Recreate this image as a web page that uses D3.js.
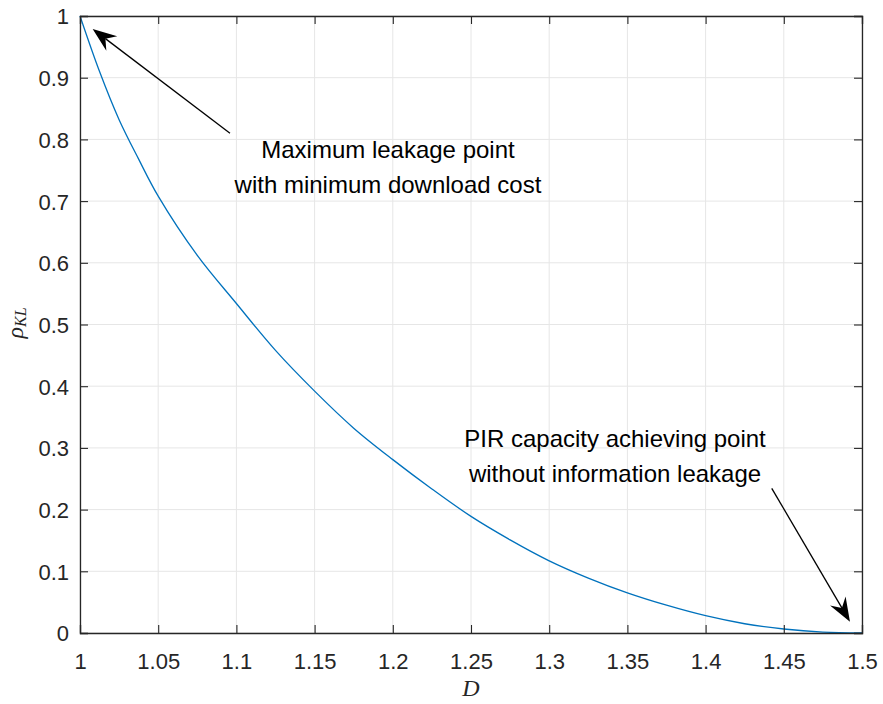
<!DOCTYPE html>
<html>
<head>
<meta charset="utf-8">
<script src="https://cdn.jsdelivr.net/npm/d3@7/dist/d3.min.js"></script>
<style>
  body { margin: 0; background: #fff; }
  svg { display: block; }
  .tick-label { font-family: "Liberation Sans", Arial, sans-serif; font-size: 22px; fill: #262626; }
  .note { font-family: "Liberation Sans", Arial, sans-serif; font-size: 24px; fill: #000; }
</style>
</head>
<body>
<div id="chart-container"><svg></svg></div>
<script>
const chartSize = {width: 883, height: 704};
const margin = {left: 80, right: 21, top: 16, bottom: 71};

const width = chartSize.width - margin.left - margin.right;
const height = chartSize.height - margin.top - margin.bottom;

const dValues = [1.000, 1.0125, 1.025, 1.0375, 1.05, 1.075, 1.1, 1.125, 1.15, 1.175,
  1.2, 1.225, 1.25, 1.275, 1.3, 1.325, 1.35, 1.375, 1.4, 1.425, 1.45, 1.475, 1.5];
const rhoValues = [1.000, 0.910, 0.832, 0.768, 0.708, 0.612, 0.534, 0.458, 0.392, 0.332,
  0.281, 0.2335, 0.189, 0.151, 0.117, 0.089, 0.065, 0.045, 0.028, 0.015, 0.0065, 0.0015, 0];

const xTicks = [1, 1.05, 1.1, 1.15, 1.2, 1.25, 1.3, 1.35, 1.4, 1.45, 1.5];
const yTicks = [0, 0.1, 0.2, 0.3, 0.4, 0.5, 0.6, 0.7, 0.8, 0.9, 1];

const noteLines = [
  ["Maximum leakage point", "with minimum download cost"],
  ["PIR capacity achieving point", "without information leakage"]
];
// arrows in data units: [tailD, tailRho, tipD, tipRho]
const noteArrows = [
  [1.0959, 0.810, 1.0081, 0.979],
  [1.4423, 0.2345, 1.4923, 0.0183]
];
const noteAnchors = [[1.1969, 0.770], [1.3421, 0.302]];

const AXIS = "#262626";
const GRID = "#e6e6e6";
const LINE = "#0072BD";

const drawChart = () => {
  const x = d3.scaleLinear().domain([1, 1.5]).range([0, width]);
  const y = d3.scaleLinear().domain([0, 1]).range([height, 0]);

  const svg = d3.select("#chart-container svg")
    .attr("width", chartSize.width)
    .attr("height", chartSize.height);

  const g = svg.append("g")
    .attr("transform", `translate(${margin.left},${margin.top})`);

  // grid
  g.append("g").selectAll("line").data(xTicks).enter().append("line")
    .attr("x1", d => x(d)).attr("x2", d => x(d))
    .attr("y1", 0).attr("y2", height)
    .attr("stroke", GRID).attr("stroke-width", 1);
  g.append("g").selectAll("line").data(yTicks).enter().append("line")
    .attr("y1", d => y(d)).attr("y2", d => y(d))
    .attr("x1", 0).attr("x2", width)
    .attr("stroke", GRID).attr("stroke-width", 1);

  // curve
  const line = d3.line()
    .x(d => x(d[0]))
    .y(d => y(d[1]))
    .curve(d3.curveCatmullRom.alpha(0.5));
  g.append("path")
    .datum(d3.zip(dValues, rhoValues))
    .attr("d", line)
    .attr("fill", "none")
    .attr("stroke", LINE)
    .attr("stroke-width", 1.3);

  // axes with inward ticks, boxed
  const xAxis = d3.axisBottom(x).tickValues(xTicks).tickSize(-8).tickPadding(20).tickFormat(d3.format("~g"));
  const yAxis = d3.axisLeft(y).tickValues(yTicks).tickSize(-8).tickPadding(11).tickFormat(d3.format("~g"));
  const xAxisTop = d3.axisTop(x).tickValues(xTicks).tickSize(-8).tickFormat("");
  const yAxisRight = d3.axisRight(y).tickValues(yTicks).tickSize(-8).tickFormat("");

  const gx = g.append("g").attr("class", "x-axis")
    .attr("transform", `translate(0,${height})`).call(xAxis);
  const gy = g.append("g").attr("class", "y-axis").call(yAxis);
  const gxt = g.append("g").call(xAxisTop);
  const gyr = g.append("g").attr("transform", `translate(${width},0)`).call(yAxisRight);

  [gx, gy, gxt, gyr].forEach(a => {
    a.select(".domain").attr("stroke", AXIS).attr("stroke-width", 1.3);
    a.selectAll(".tick line").attr("stroke", AXIS).attr("stroke-width", 1.1);
    a.selectAll("text").attr("class", "tick-label").attr("font-size", null).attr("font-family", null).attr("fill", null);
  });
  gx.selectAll("text").attr("dy", "0.71em");
  gy.selectAll("text").attr("dy", "0.36em");

  // axis labels
  g.append("text")
    .attr("x", width / 2)
    .attr("y", height + 63)
    .attr("text-anchor", "middle")
    .style("font-family", "'Liberation Serif', 'DejaVu Serif', serif")
    .style("font-style", "italic")
    .style("font-size", "24px")
    .attr("fill", AXIS)
    .text("D");

  const yl = g.append("text")
    .attr("transform", `translate(${23 - margin.left},${323 - margin.top}) rotate(-90)`)
    .attr("text-anchor", "middle")
    .style("font-family", "'Liberation Serif', 'DejaVu Serif', serif")
    .style("font-style", "italic")
    .style("font-size", "24px")
    .attr("fill", AXIS);
  yl.append("tspan").text("ρ");
  yl.append("tspan").attr("dy", 3).style("font-size", "16px").text("KL");

  // annotations
  noteLines.forEach((lines, i) => {
    const t = g.append("text")
      .attr("class", "note")
      .attr("text-anchor", "middle")
      .attr("x", x(noteAnchors[i][0]))
      .attr("y", y(noteAnchors[i][1]));
    lines.forEach((s, j) => {
      t.append("tspan")
        .attr("x", x(noteAnchors[i][0]))
        .attr("dy", j === 0 ? 0 : 35)
        .text(s);
    });
  });

  noteArrows.forEach(a => {
    const x0 = x(a[0]), y0 = y(a[1]), x1 = x(a[2]), y1 = y(a[3]);
    const len = Math.hypot(x1 - x0, y1 - y0);
    const ux = (x1 - x0) / len, uy = (y1 - y0) / len;
    const nx = -uy, ny = ux;
    const hl = 24, hw = 9, notch = 16;
    g.append("line")
      .attr("x1", x0).attr("y1", y0)
      .attr("x2", x1 - ux * notch).attr("y2", y1 - uy * notch)
      .attr("stroke", "#000").attr("stroke-width", 1.3);
    const pts = [
      [x1, y1],
      [x1 - ux * hl + nx * hw, y1 - uy * hl + ny * hw],
      [x1 - ux * notch, y1 - uy * notch],
      [x1 - ux * hl - nx * hw, y1 - uy * hl - ny * hw]
    ];
    g.append("polygon")
      .attr("points", pts.map(p => p.join(",")).join(" "))
      .attr("fill", "#000");
  });
};

window.onload = drawChart;
</script>
</body>
</html>
